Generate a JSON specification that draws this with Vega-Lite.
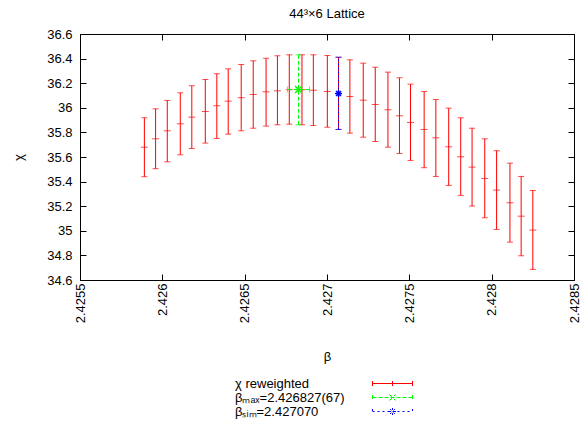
{
  "$schema": "https://vega.github.io/schema/vega-lite/v6.json",
  "width": 494,
  "height": 246,
  "autosize": {"type": "none"},
  "padding": {"left": 80, "top": 34, "right": 8, "bottom": 144},
  "background": "white",
  "title": {"text": "44³×6 Lattice", "fontSize": 13, "fontWeight": "normal", "font": "Liberation Sans", "offset": 7, "anchor": "middle", "color": "black"},
  "config": {
    "view": {"stroke": "black", "strokeWidth": 1},
    "font": "Liberation Sans",
    "axis": {"grid": false, "domainColor": "black", "tickColor": "black", "labelColor": "black", "titleColor": "black", "labelFont": "Liberation Sans", "labelFontSize": 13, "titleFont": "Liberation Sans", "titleFontSize": 13, "titleFontWeight": "normal", "tickSize": -6}
  },
  "datasets": {
    "rew": [
      {"beta": 2.425891, "chi": 35.680, "lo": 35.440, "hi": 35.919, "series": "χ reweighted"},
      {"beta": 2.425959, "chi": 35.748, "lo": 35.505, "hi": 35.992, "series": "χ reweighted"},
      {"beta": 2.426030, "chi": 35.813, "lo": 35.561, "hi": 36.060, "series": "χ reweighted"},
      {"beta": 2.426109, "chi": 35.870, "lo": 35.618, "hi": 36.122, "series": "χ reweighted"},
      {"beta": 2.426179, "chi": 35.924, "lo": 35.669, "hi": 36.179, "series": "χ reweighted"},
      {"beta": 2.426261, "chi": 35.970, "lo": 35.713, "hi": 36.230, "series": "χ reweighted"},
      {"beta": 2.426331, "chi": 36.017, "lo": 35.751, "hi": 36.277, "series": "χ reweighted"},
      {"beta": 2.426400, "chi": 36.054, "lo": 35.786, "hi": 36.317, "series": "χ reweighted"},
      {"beta": 2.426479, "chi": 36.082, "lo": 35.813, "hi": 36.352, "series": "χ reweighted"},
      {"beta": 2.426552, "chi": 36.108, "lo": 35.834, "hi": 36.382, "series": "χ reweighted"},
      {"beta": 2.426630, "chi": 36.130, "lo": 35.851, "hi": 36.403, "series": "χ reweighted"},
      {"beta": 2.426699, "chi": 36.138, "lo": 35.862, "hi": 36.423, "series": "χ reweighted"},
      {"beta": 2.426771, "chi": 36.147, "lo": 35.867, "hi": 36.431, "series": "χ reweighted"},
      {"beta": 2.426848, "chi": 36.147, "lo": 35.862, "hi": 36.431, "series": "χ reweighted"},
      {"beta": 2.426917, "chi": 36.143, "lo": 35.856, "hi": 36.431, "series": "χ reweighted"},
      {"beta": 2.427002, "chi": 36.133, "lo": 35.842, "hi": 36.425, "series": "χ reweighted"},
      {"beta": 2.427070, "chi": 36.116, "lo": 35.824, "hi": 36.411, "series": "χ reweighted"},
      {"beta": 2.427139, "chi": 36.092, "lo": 35.794, "hi": 36.390, "series": "χ reweighted"},
      {"beta": 2.427220, "chi": 36.062, "lo": 35.761, "hi": 36.363, "series": "χ reweighted"},
      {"beta": 2.427293, "chi": 36.027, "lo": 35.726, "hi": 36.330, "series": "χ reweighted"},
      {"beta": 2.427370, "chi": 35.984, "lo": 35.680, "hi": 36.290, "series": "χ reweighted"},
      {"beta": 2.427440, "chi": 35.935, "lo": 35.629, "hi": 36.244, "series": "χ reweighted"},
      {"beta": 2.427507, "chi": 35.881, "lo": 35.572, "hi": 36.192, "series": "χ reweighted"},
      {"beta": 2.427590, "chi": 35.824, "lo": 35.513, "hi": 36.133, "series": "χ reweighted"},
      {"beta": 2.427661, "chi": 35.756, "lo": 35.442, "hi": 36.068, "series": "χ reweighted"},
      {"beta": 2.427739, "chi": 35.683, "lo": 35.369, "hi": 35.997, "series": "χ reweighted"},
      {"beta": 2.427812, "chi": 35.602, "lo": 35.288, "hi": 35.919, "series": "χ reweighted"},
      {"beta": 2.427881, "chi": 35.518, "lo": 35.201, "hi": 35.834, "series": "χ reweighted"},
      {"beta": 2.427958, "chi": 35.426, "lo": 35.106, "hi": 35.748, "series": "χ reweighted"},
      {"beta": 2.428030, "chi": 35.331, "lo": 35.011, "hi": 35.651, "series": "χ reweighted"},
      {"beta": 2.428111, "chi": 35.228, "lo": 34.908, "hi": 35.550, "series": "χ reweighted"},
      {"beta": 2.428179, "chi": 35.119, "lo": 34.797, "hi": 35.442, "series": "χ reweighted"},
      {"beta": 2.428250, "chi": 35.006, "lo": 34.686, "hi": 35.328, "series": "χ reweighted"}
    ],
    "bmax": [
      {"beta": 2.426827, "chi": 36.149, "lo": 35.862, "hi": 36.431, "xlo": 2.426760, "xhi": 2.426894}
    ],
    "bsim": [
      {"beta": 2.427070, "chi": 36.116, "lo": 35.824, "hi": 36.411}
    ]
  },
  "layer": [
    {
      "data": {"name": "rew"},
      "mark": {"type": "rule", "strokeWidth": 1},
      "encoding": {
        "x": {"field": "beta", "type": "quantitative", "scale": {"domain": [2.4255, 2.4285], "nice": false, "zero": false},
          "axis": {"values": [2.4255, 2.426, 2.4265, 2.427, 2.4275, 2.428, 2.4285], "format": "~g", "labelAngle": -90, "labelPadding": 9, "title": "β", "titlePadding": 28, "domain": false}},
        "y": {"field": "lo", "type": "quantitative", "scale": {"domain": [34.6, 36.6], "nice": false, "zero": false},
          "axis": {"values": [34.6, 34.8, 35, 35.2, 35.4, 35.6, 35.8, 36, 36.2, 36.4, 36.6], "format": "~g", "labelPadding": 14, "title": "χ", "titlePadding": 21, "domain": false}},
        "y2": {"field": "hi"},
        "color": {"field": "series", "type": "nominal",
          "scale": {"domain": ["χ reweighted", "βₘₐₓ=2.426827(67)", "βₛᵢₘ=2.427070"], "range": ["#ff0000", "#00ff00", "#0000ff"]},
          "legend": {
            "orient": "none", "legendX": 306, "legendY": 343, "title": null, "padding": 0,
            "symbolType": "M-4,0H4M-4,-0.5V0.5M4,-0.5V0.5M0,-0.5V0.5",
            "symbolSize": 100, "symbolStrokeWidth": 1,
            "labelOffset": -164, "labelFont": "Liberation Sans", "labelFontSize": 13, "labelColor": "black", "labelLimit": 400, "rowPadding": -1,
            "encode": {"symbols": {"update": {
              "shape": {"signal": "datum.index === 0 ? 'M-4,0H4M-4,-0.5V0.5M4,-0.5V0.5M0,-0.5V0.5' : datum.index === 1 ? 'M-4,0H4M-4,-0.5V0.5M4,-0.5V0.5M-0.6,-0.6L0.6,0.6M-0.6,0.6L0.6,-0.6' : 'M-4,0H4M-4,-0.5V0.5M4,-0.5V0.5M-0.7,0H0.7M0,-0.7V0.7M-0.5,-0.5L0.5,0.5M-0.5,0.5L0.5,-0.5'"},
              "strokeDash": {"signal": "datum.index === 0 ? [] : datum.index === 1 ? [4, 2] : [2, 3]"}
            }}}
          }}
      }
    },
    {
      "data": {"name": "rew"},
      "mark": {"type": "tick", "orient": "horizontal", "size": 6, "thickness": 1, "color": "#ff0000"},
      "encoding": {
        "x": {"field": "beta", "type": "quantitative", "axis": {"orient": "top", "values": [2.4255, 2.426, 2.4265, 2.427, 2.4275, 2.428, 2.4285], "labels": false, "title": null, "domain": false}},
        "y": {"field": "lo", "type": "quantitative", "axis": {"orient": "right", "values": [34.6, 34.8, 35, 35.2, 35.4, 35.6, 35.8, 36, 36.2, 36.4, 36.6], "labels": false, "title": null, "domain": false}}
      }
    },
    {
      "data": {"name": "rew"},
      "mark": {"type": "tick", "orient": "horizontal", "size": 6, "thickness": 1, "color": "#ff0000"},
      "encoding": {
        "x": {"field": "beta", "type": "quantitative", "axis": null},
        "y": {"field": "hi", "type": "quantitative", "axis": null}
      }
    },
    {
      "data": {"name": "rew"},
      "mark": {"type": "tick", "orient": "horizontal", "size": 7, "thickness": 1, "color": "#ff0000"},
      "encoding": {
        "x": {"field": "beta", "type": "quantitative", "axis": null},
        "y": {"field": "chi", "type": "quantitative", "axis": null}
      }
    },
    {
      "data": {"name": "bmax"},
      "mark": {"type": "rule", "strokeWidth": 1, "color": "#00ff00", "strokeDash": [4, 2]},
      "encoding": {
        "x": {"field": "beta", "type": "quantitative", "axis": null},
        "y": {"field": "lo", "type": "quantitative", "axis": null},
        "y2": {"field": "hi"}
      }
    },
    {
      "data": {"name": "bmax"},
      "mark": {"type": "rule", "strokeWidth": 1, "color": "#00ff00", "strokeDash": [4, 2]},
      "encoding": {
        "x": {"field": "xlo", "type": "quantitative", "axis": null},
        "x2": {"field": "xhi"},
        "y": {"field": "chi", "type": "quantitative", "axis": null}
      }
    },
    {
      "data": {"name": "bmax"},
      "mark": {"type": "tick", "orient": "horizontal", "size": 6, "thickness": 1, "color": "#00ff00"},
      "encoding": {
        "x": {"field": "beta", "type": "quantitative", "axis": null},
        "y": {"field": "lo", "type": "quantitative", "axis": null}
      }
    },
    {
      "data": {"name": "bmax"},
      "mark": {"type": "tick", "orient": "horizontal", "size": 6, "thickness": 1, "color": "#00ff00"},
      "encoding": {
        "x": {"field": "beta", "type": "quantitative", "axis": null},
        "y": {"field": "hi", "type": "quantitative", "axis": null}
      }
    },
    {
      "data": {"name": "bmax"},
      "mark": {"type": "tick", "orient": "vertical", "size": 6, "thickness": 1, "color": "#00ff00"},
      "encoding": {
        "x": {"field": "xlo", "type": "quantitative", "axis": null},
        "y": {"field": "chi", "type": "quantitative", "axis": null}
      }
    },
    {
      "data": {"name": "bmax"},
      "mark": {"type": "tick", "orient": "vertical", "size": 6, "thickness": 1, "color": "#00ff00"},
      "encoding": {
        "x": {"field": "xhi", "type": "quantitative", "axis": null},
        "y": {"field": "chi", "type": "quantitative", "axis": null}
      }
    },
    {
      "data": {"name": "bmax"},
      "mark": {"type": "point", "shape": "M-1,-1L1,1M-1,1L1,-1", "size": 49, "filled": false, "color": "#00ff00", "strokeWidth": 1.5, "opacity": 1},
      "encoding": {
        "x": {"field": "beta", "type": "quantitative", "axis": null},
        "y": {"field": "chi", "type": "quantitative", "axis": null}
      }
    },
    {
      "data": {"name": "bsim"},
      "mark": {"type": "rule", "strokeWidth": 1, "color": "#0000ff", "strokeDash": [2, 2]},
      "encoding": {
        "x": {"field": "beta", "type": "quantitative", "axis": null},
        "y": {"field": "lo", "type": "quantitative", "axis": null},
        "y2": {"field": "hi"}
      }
    },
    {
      "data": {"name": "bsim"},
      "mark": {"type": "tick", "orient": "horizontal", "size": 6, "thickness": 1, "color": "#0000ff"},
      "encoding": {
        "x": {"field": "beta", "type": "quantitative", "axis": null},
        "y": {"field": "lo", "type": "quantitative", "axis": null}
      }
    },
    {
      "data": {"name": "bsim"},
      "mark": {"type": "tick", "orient": "horizontal", "size": 6, "thickness": 1, "color": "#0000ff"},
      "encoding": {
        "x": {"field": "beta", "type": "quantitative", "axis": null},
        "y": {"field": "hi", "type": "quantitative", "axis": null}
      }
    },
    {
      "data": {"name": "bsim"},
      "mark": {"type": "point", "shape": "M-1,0H1M0,-1V1M-0.7,-0.7L0.7,0.7M-0.7,0.7L0.7,-0.7", "size": 49, "filled": false, "color": "#0000ff", "strokeWidth": 1.5, "opacity": 1},
      "encoding": {
        "x": {"field": "beta", "type": "quantitative", "axis": null},
        "y": {"field": "chi", "type": "quantitative", "axis": null}
      }
    }
  ],
  "resolve": {"axis": {"x": "independent", "y": "independent"}}
}
